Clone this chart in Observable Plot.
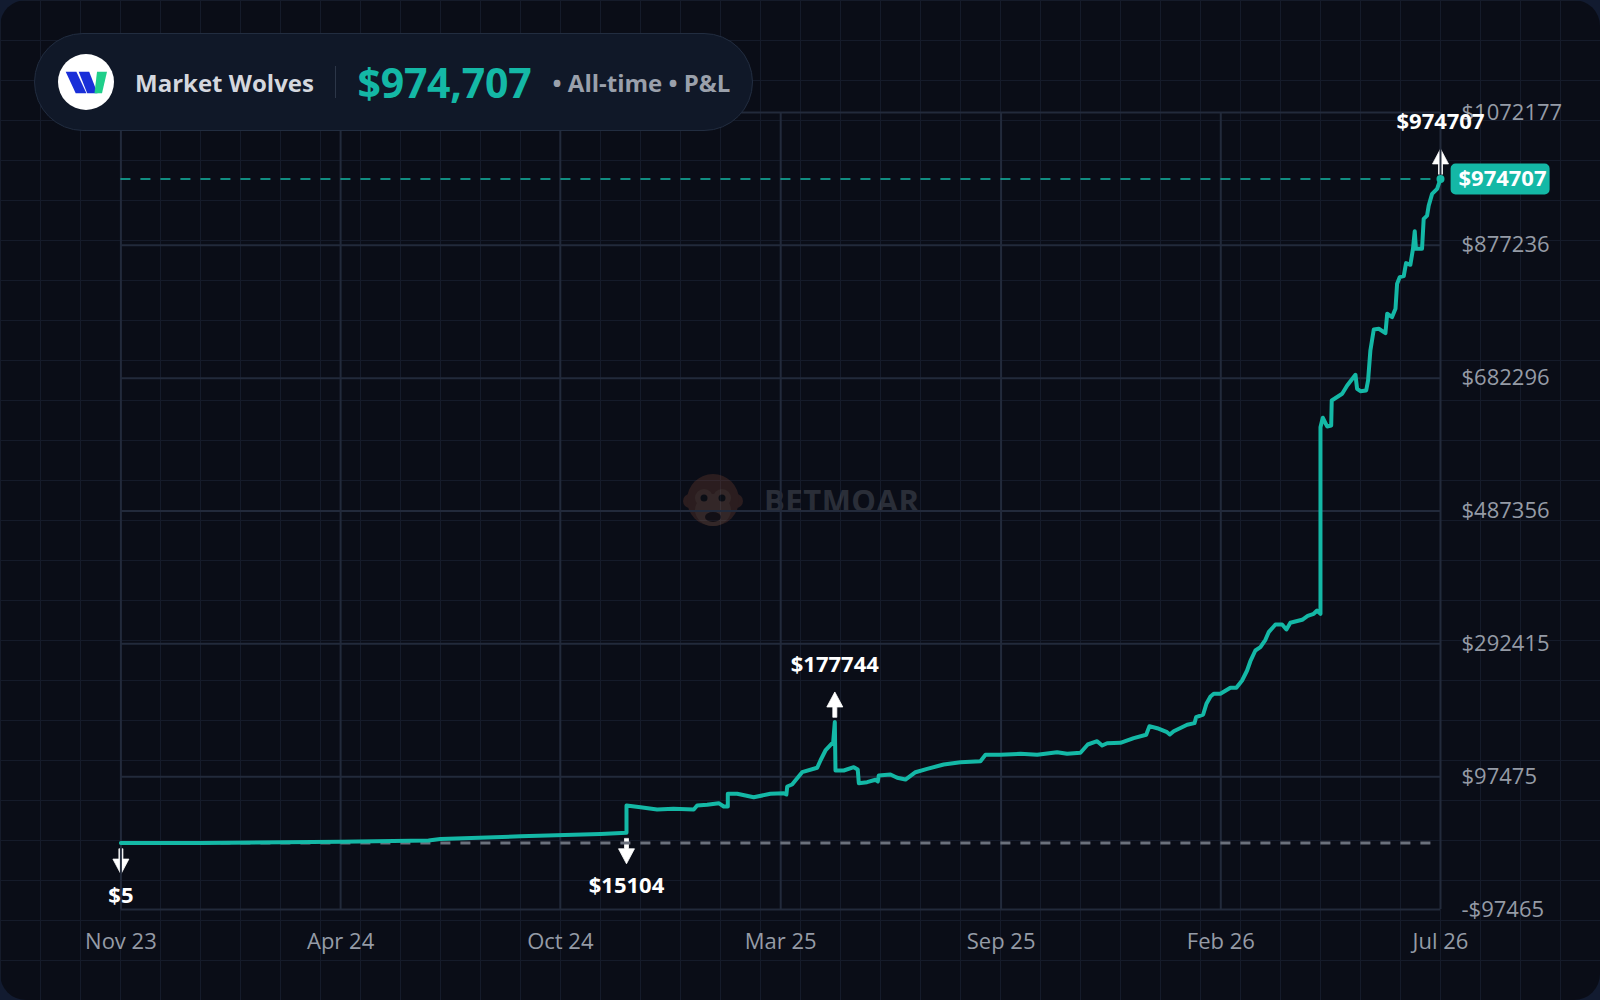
<!DOCTYPE html>
<html><head><meta charset="utf-8">
<script src="https://cdn.jsdelivr.net/npm/d3@7"></script>
<script src="https://cdn.jsdelivr.net/npm/@observablehq/plot@0.6"></script>
<style>
html,body{margin:0;padding:0;width:1600px;height:1000px;overflow:hidden;background:#121b30;font-family:"Open Sans",sans-serif;}
#card{position:absolute;left:0;top:0;width:1600px;height:1000px;border-radius:26px;overflow:hidden;background-color:#0a0d17;
background-image:linear-gradient(to right,#151b2a 1px,transparent 1px),linear-gradient(to bottom,#151b2a 1px,transparent 1px);background-size:40px 40px;}
#wm{position:absolute;left:683px;top:468px;display:flex;align-items:center;gap:21px;}
#wm span{font-weight:700;font-size:31px;color:#9ca3af;opacity:0.22;letter-spacing:0.5px;}
#chart{position:absolute;left:0;top:0;}
#pill{position:absolute;left:34px;top:33px;width:719px;height:98px;box-sizing:border-box;border-radius:49px;background:#101828;border:1.5px solid #222d40;display:flex;align-items:center;padding-left:23px;}
#name{margin-left:21px;font-size:24px;font-weight:700;color:#d4d7de;}
#div{width:1.5px;height:32px;background:#2c3648;margin:0 21px;}
#val{font-size:41px;font-weight:700;color:#14b8a6;letter-spacing:-0.2px;}
#sub{margin-left:21px;font-size:24px;font-weight:700;color:#9aa0ab;}
</style></head>
<body>
<div id="card">
  <div id="wm">
    <svg width="60" height="64" viewBox="0 0 60 64" style="opacity:0.26">
      <circle cx="7" cy="33" r="7" fill="#8a4b36"/><circle cx="53" cy="33" r="7" fill="#8a4b36"/>
      <circle cx="30" cy="32" r="26" fill="#8a4b36"/>
      <ellipse cx="30" cy="42" rx="18" ry="16" fill="#a87459"/>
      <circle cx="21" cy="30" r="9" fill="#a87459"/><circle cx="39" cy="30" r="9" fill="#a87459"/>
      <circle cx="21" cy="30" r="3.5" fill="#111"/><circle cx="39" cy="30" r="3.5" fill="#111"/>
      <ellipse cx="30" cy="49" rx="8" ry="5" fill="#2a1510"/>
    </svg>
    <span>BETMOAR</span>
  </div>
  <div id="chart"></div>
  <div id="pill">
    <svg width="56" height="56" viewBox="0 0 56 56">
      <circle cx="28" cy="28" r="28" fill="#ffffff"/>
      <polygon points="7.7,17.7 18.4,17.7 28.4,39.3 17.7,39.3" fill="#1a2fd8"/>
      <polygon points="20.7,17.7 31.2,17.7 39.5,39.3 29.2,39.3" fill="#1a2fd8"/>
      <polygon points="39,17.7 49,17.7 44,39.3 36.5,39.3" fill="#1fcf8a"/>
    </svg>
    <span id="name">Market Wolves</span>
    <span id="div"></span>
    <span id="val">$974,707</span>
    <span id="sub">• All-time • P&amp;L</span>
  </div>
</div>
<script>
// ---- data (days since 2023-11-15, cumulative P&L in $) ----
const startDate = "2023-11-15";
const days = [0,58.7,161.9,226.8,235.6,294.6,353.6,372.8,372.8,383.1,
395.4,407.4,422.4,424.9,432.3,440.8,444.5,447.5,447.5,454.4,
466.6,478.9,488.8,490.7,491.3,494.9,502.3,513.4,515.8,519.5,
525.2,526.4,526.9,533.0,540.4,543.3,544.1,550.2,556.4,558.1,
558.8,567.4,572.4,578.5,585.9,594.5,606.7,619.0,633.8,637.5,
648.5,663.3,675.6,690.3,697.7,707.5,712.9,719.8,723.5,727.2,
737.0,746.8,756.0,758.4,764.1,771.4,773.4,776.3,786.2,791.6,
792.8,798.0,800.4,803.4,805.8,810.7,818.1,822.5,826.7,830.4,
832.8,836.5,840.2,843.9,846.3,851.3,856.2,859.4,862.3,871.0,
875.1,879.5,882.0,884.5,884.5,886.2,889.4,892.4,892.8,900.5,
904.2,910.3,911.5,914.0,918.2,919.6,921.3,923.8,927.5,932.4,
933.7,937.3,939.8,941.0,942.9,945.9,947.6,950.8,952.7,954.0,
954.9,959.4,960.6,963.1,964.3,966.8,970.5,973];
const pnl = [5,300,1800,3800,6000,10000,13500,15104,55180,52700,
49300,50300,49300,55180,56200,58560,53700,53700,72350,72350,
67360,72350,73230,71330,83070,86000,104050,110500,121200,135900,
148100,177744,106550,106550,111400,108000,87900,89400,92900,90400,
99200,100700,95800,93300,104000,109000,115350,118700,120200,129600,
129500,131000,129600,133400,131000,132500,144700,149500,143200,146600,
147200,154000,159000,171600,168600,162700,159400,164200,173600,176000,
184800,188700,204400,215200,219100,219100,227900,227900,238600,253300,
266900,282600,287500,298400,309500,320800,320800,313500,323300,327700,
333500,336500,341300,336500,610400,624200,611400,612900,649600,659400,
671600,687300,666700,663200,664200,678900,722900,753800,754800,748300,
776800,771900,784100,820900,830500,832000,851100,848700,872000,898000,
872200,872200,916000,920900,935500,952700,960000,974707];

const annotDays = [0, 372.8, 526.4, 973];
const annotValues = [5, 15104, 177744, 974707];
const annotLabels = ["$5", "$15104", "$177744", "$974707"];
const annotDirs = ["down", "down", "up", "up"];

const lastValue = 974707;
const lastLabel = "$974707";

const tickDays = [0, 162, 324, 486.5, 649, 811, 973];
const xTickLabels = ["Nov 23", "Apr 24", "Oct 24", "Mar 25", "Sep 25", "Feb 26", "Jul 26"];
const yTicks = [-97465, 97475, 292415, 487356, 682296, 877236, 1072177];

// ---- build ----
const t0 = new Date(startDate + "T00:00:00Z").getTime();
const toDate = d => new Date(t0 + d * 864e5);
const series = days.map((d, i) => ({date: toDate(d), pnl: pnl[i]}));
const annots = annotDays.map((d, i) => ({date: toDate(d), pnl: annotValues[i], label: annotLabels[i], dir: annotDirs[i]}));
const ups = annots.filter(a => a.dir === "up");
const downs = annots.filter(a => a.dir === "down");
const last = [series[series.length - 1]];
const xTicks = tickDays.map(toDate);
const labelOf = new Map(xTicks.map((t, i) => [+t, xTickLabels[i]]));
const fmt = v => (v < 0 ? "-$" : "$") + Math.abs(v);

const TEAL = "#14b8a6";
const GRID = "#222a3b";

const arrowShape = {
  draw(ctx, l) {
    const h = 15, w = 8, s = 2;
    ctx.moveTo(-s, 0);
    ctx.lineTo(-s, -(l - h));
    ctx.lineTo(-w, -(l - h));
    ctx.lineTo(0, -l);
    ctx.lineTo(w, -(l - h));
    ctx.lineTo(s, -(l - h));
    ctx.lineTo(s, 0);
    ctx.closePath();
  }
};
const badgeShape = {
  draw(ctx) {
    const w = 99, h = 31, r = 5, x0 = -w / 2, y0 = -h / 2;
    ctx.moveTo(x0 + r, y0);
    ctx.lineTo(x0 + w - r, y0);
    ctx.arcTo(x0 + w, y0, x0 + w, y0 + r, r);
    ctx.lineTo(x0 + w, y0 + h - r);
    ctx.arcTo(x0 + w, y0 + h, x0 + w - r, y0 + h, r);
    ctx.lineTo(x0 + r, y0 + h);
    ctx.arcTo(x0, y0 + h, x0, y0 + h - r, r);
    ctx.lineTo(x0, y0 + r);
    ctx.arcTo(x0, y0, x0 + r, y0, r);
    ctx.closePath();
  }
};

const chart = Plot.plot({
  width: 1600,
  height: 1000,
  marginLeft: 120.4,
  marginRight: 160,
  marginTop: 112,
  marginBottom: 91,
  style: {background: "transparent", color: "#959ba6", fontFamily: "'Open Sans', sans-serif", overflow: "visible"},
  x: {type: "time", domain: [toDate(0), toDate(973)]},
  y: {domain: [-97465, 1072177]},
  marks: [
    Plot.vector(ups, {x: "date", y: "pnl", length: 25, rotate: 0, anchor: "start", shape: arrowShape, fill: "white", stroke: "white", strokeWidth: 0.8, dy: -5}),
    Plot.vector(downs, {x: "date", y: "pnl", length: 25, rotate: 180, anchor: "start", shape: arrowShape, fill: "white", stroke: "white", strokeWidth: 0.8, dy: 6}),
    Plot.gridX({ticks: xTicks, stroke: GRID, strokeOpacity: 1, strokeWidth: 2}),
    Plot.gridY({ticks: yTicks, stroke: GRID, strokeOpacity: 1, strokeWidth: 2}),
    Plot.axisX({ticks: xTicks, tickFormat: d => labelOf.get(+d), tickSize: 0, tickPadding: 24, fontSize: 22, color: "#959ba6", label: null}),
    Plot.axisY({ticks: yTicks, anchor: "right", tickFormat: fmt, tickSize: 0, tickPadding: 21, fontSize: 22, color: "#959ba6", label: null}),
    Plot.ruleY([0], {stroke: "#6b717d", strokeWidth: 3, strokeDasharray: "10,10"}),
    Plot.ruleY([lastValue], {stroke: TEAL, strokeOpacity: 0.75, strokeWidth: 2, strokeDasharray: "10,10"}),
    Plot.line(series, {x: "date", y: "pnl", stroke: TEAL, strokeWidth: 4, strokeLinejoin: "round", strokeLinecap: "round"}),
    Plot.dot(last, {x: "date", y: "pnl", r: 4, fill: TEAL}),
    Plot.text(ups, {x: "date", y: "pnl", text: "label", dy: -57, fill: "white", fontSize: 22, fontWeight: "bold"}),
    Plot.text(downs, {x: "date", y: "pnl", text: "label", dy: 53, fill: "white", fontSize: 22, fontWeight: "bold"}),
    Plot.dot(last, {x: "date", y: "pnl", symbol: badgeShape, fill: TEAL, stroke: "none", dx: 59.6}),
    Plot.text(last, {x: "date", y: "pnl", text: () => lastLabel, dx: 62, fill: "white", fontSize: 22, fontWeight: "bold"})
  ]
});
document.getElementById("chart").append(chart);
</script>
</body></html>
